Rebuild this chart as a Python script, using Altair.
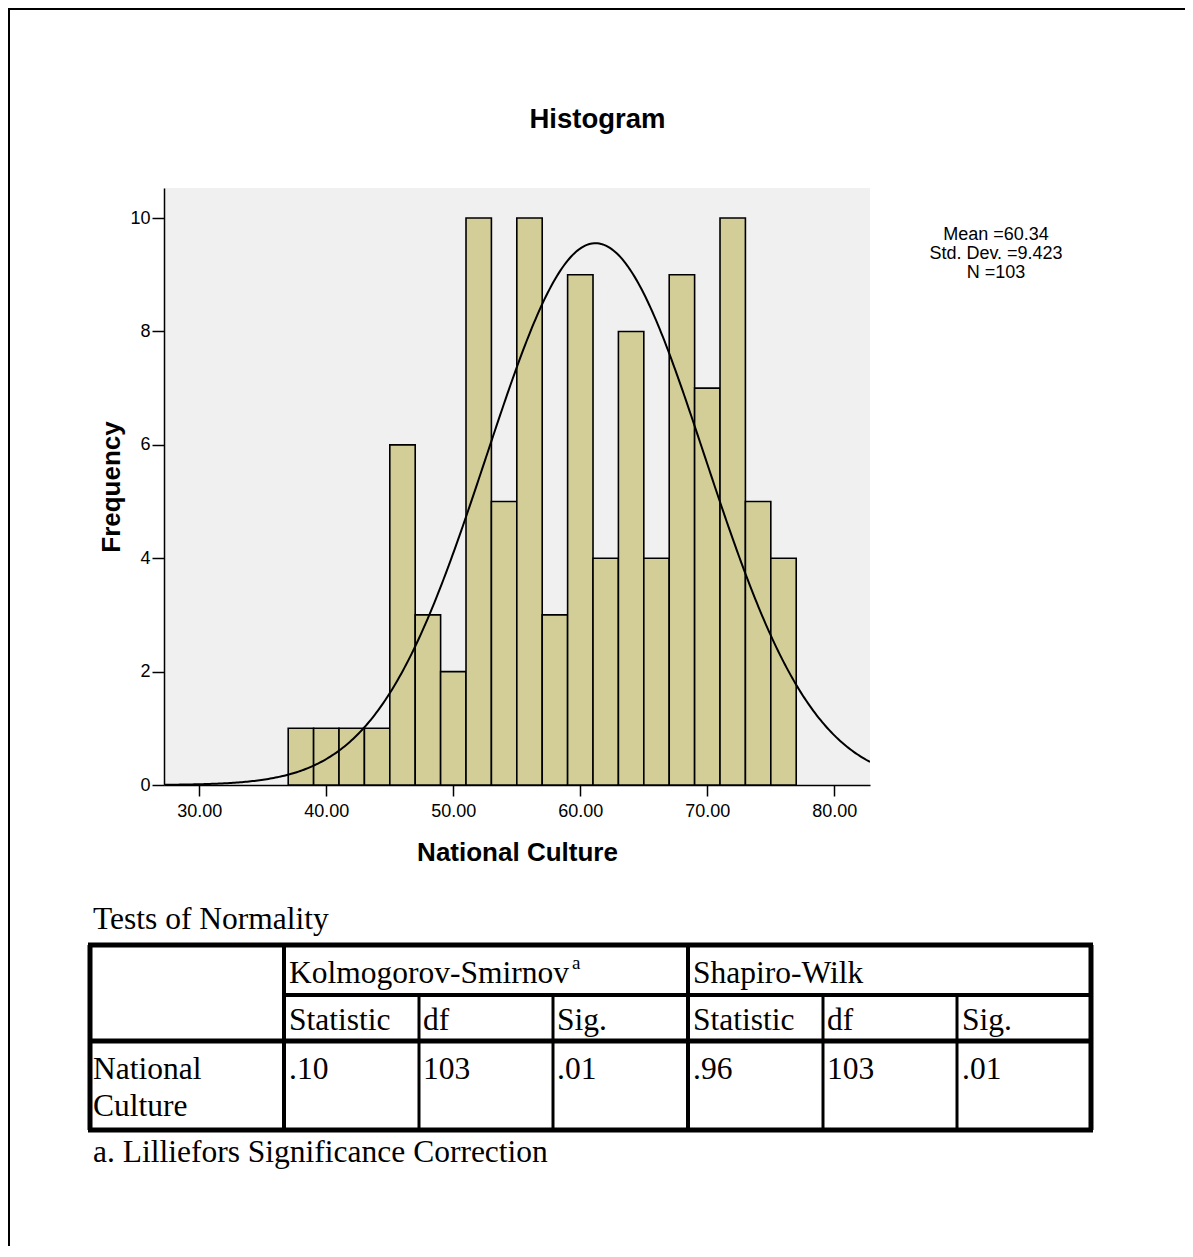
import altair as alt
import pandas as pd
import numpy as np

# ---------------- data ----------------
bin_starts = [37, 39, 41, 43, 45, 47, 49, 51, 53, 55, 57, 59, 61, 63, 65, 67, 69, 71, 73, 75]
counts = [1, 1, 1, 1, 6, 3, 2, 10, 5, 10, 3, 9, 4, 8, 4, 9, 7, 10, 5, 4]
bin_width = 2
n_obs = 103
curve_mean = 61.2   # fitted curve as drawn in the picture
curve_sd = 8.6
stats_lines = ["Mean =60.34", "Std. Dev. =9.423", "N =103"]
x_ticks = [30, 40, 50, 60, 70, 80]
y_ticks = [0, 2, 4, 6, 8, 10]
x_domain = [27.22, 82.81]
y_domain = [0, 10.53]

chart_title = "Histogram"
x_title = "National Culture"
y_title = "Frequency"

table_title = "Tests of Normality"
group_headers = ["Kolmogorov-Smirnov", "Shapiro-Wilk"]
group_sup = "a"
sub_headers = ["Statistic", "df", "Sig.", "Statistic", "df", "Sig."]
row_label = ["National", "Culture"]
row_values = [".10", "103", ".01", ".96", "103", ".01"]
footnote = "a. Lilliefors Significance Correction"

# ---------------- layout (page pixels) ----------------
OX, OY = 164, 188          # plot origin on the page
W, H = 706, 597            # plot area
CW, CH = 1177, 1238        # canvas size

def px(v):
    return v - OX

def py(v):
    return v - OY

SANS = "Liberation Sans"
SERIF = "Liberation Serif"
BAR = "#D3CE97"
TFS = 31.5  # table font size

# ---------------- histogram ----------------
bars_df = pd.DataFrame({
    "start": bin_starts,
    "end": [b + bin_width for b in bin_starts],
    "count": counts,
})

xs = np.linspace(x_domain[0], x_domain[1], 400)
ys = n_obs * bin_width / (curve_sd * np.sqrt(2 * np.pi)) * np.exp(-0.5 * ((xs - curve_mean) / curve_sd) ** 2)
curve_df = pd.DataFrame({"x": xs, "y": ys})

xscale = alt.Scale(domain=x_domain, nice=False, zero=False)
yscale = alt.Scale(domain=y_domain, nice=False, zero=False)

xaxis = alt.Axis(values=x_ticks, format=".2f", title=x_title, grid=False,
                 labelFont=SANS, labelFontSize=18, labelColor="black", labelPadding=6,
                 tickColor="black", tickSize=11, tickWidth=1.5,
                 domainColor="black", domainWidth=1.5,
                 titleFont=SANS, titleFontSize=26, titleFontWeight="bold", titleColor="black",
                 titleBaseline="alphabetic", titleY=75)
yaxis = alt.Axis(values=y_ticks, format="d", title=y_title, grid=False,
                 labelFont=SANS, labelFontSize=18, labelColor="black", labelPadding=2,
                 tickColor="black", tickSize=12, tickWidth=1.5,
                 domainColor="black", domainWidth=1.5,
                 titleFont=SANS, titleFontSize=26, titleFontWeight="bold", titleColor="black",
                 titleBaseline="alphabetic", titleX=-45, titleY=H / 2, titleAngle=-90)

bars = alt.Chart(bars_df).mark_rect(fill=BAR, stroke="black", strokeWidth=1.6).encode(
    x=alt.X("start:Q", scale=xscale, axis=xaxis),
    x2="end:Q",
    y=alt.Y("count:Q", scale=yscale, axis=yaxis),
    y2=alt.datum(0),
)

curve = alt.Chart(curve_df).mark_line(color="black", strokeWidth=2, clip=True).encode(
    x="x:Q",
    y="y:Q",
)

# ---------------- texts positioned on the page ----------------
texts = []
texts.append(dict(t=chart_title, x=px(597.5), y=py(128), font=SANS, size=27.5, weight="bold", align="center"))
for i, s in enumerate(stats_lines):
    texts.append(dict(t=s, x=px(996), y=py(240 + 19 * i), font=SANS, size=18, weight="normal", align="center"))

texts.append(dict(t=table_title, x=px(93), y=py(929), font=SERIF, size=TFS, weight="normal", align="left"))
group_x = [289, 693]
for g, gx in zip(group_headers, group_x):
    texts.append(dict(t=g, x=px(gx), y=py(983), font=SERIF, size=TFS, weight="normal", align="left"))
texts.append(dict(t=group_sup, x=px(572), y=py(969), font=SERIF, size=19, weight="normal", align="left"))
col_x = [289, 423, 557, 693, 827, 962]
for s, cx in zip(sub_headers, col_x):
    texts.append(dict(t=s, x=px(cx), y=py(1030), font=SERIF, size=TFS, weight="normal", align="left"))
for i, s in enumerate(row_label):
    texts.append(dict(t=s, x=px(93), y=py(1079 + 37 * i), font=SERIF, size=TFS, weight="normal", align="left"))
for s, cx in zip(row_values, col_x):
    texts.append(dict(t=s, x=px(cx), y=py(1079), font=SERIF, size=TFS, weight="normal", align="left"))
texts.append(dict(t=footnote, x=px(93), y=py(1162), font=SERIF, size=TFS, weight="normal", align="left"))
texts_df = pd.DataFrame(texts)

text_layers = []
for (font, size, weight, align), sub in texts_df.groupby(["font", "size", "weight", "align"]):
    text_layers.append(
        alt.Chart(sub).mark_text(font=font, fontSize=float(size), fontWeight=weight, align=align,
                                 baseline="alphabetic", color="black").encode(
            x=alt.X("x:Q", scale=None, axis=None),
            y=alt.Y("y:Q", scale=None, axis=None),
            text="t:N",
        )
    )

# ---------------- table & frame lines ----------------
L, R = 90, 1091
c1, c2, c3, c4, c5, c6 = 284, 419, 553, 688, 823, 957
r0, r1, r2, r3 = 945, 995, 1041, 1130
rules = [
    # frame
    dict(x1=9, x2=9, y1=8, y2=1257, w=2),
    dict(x1=8, x2=1193, y1=9, y2=9, w=2),
    # table outer
    dict(x1=L - 2, x2=R + 2, y1=r0, y2=r0, w=5),
    dict(x1=L - 2, x2=R + 2, y1=r3, y2=r3, w=5),
    dict(x1=L, x2=L, y1=r0, y2=r3, w=5),
    dict(x1=R, x2=R, y1=r0, y2=r3, w=5),
    # inner
    dict(x1=L, x2=R, y1=r2, y2=r2, w=5),
    dict(x1=c1, x2=R, y1=r1, y2=r1, w=4),
    dict(x1=c1, x2=c1, y1=r0, y2=r3, w=4),
    dict(x1=c4, x2=c4, y1=r0, y2=r3, w=4),
    dict(x1=c2, x2=c2, y1=r1, y2=r3, w=3),
    dict(x1=c3, x2=c3, y1=r1, y2=r3, w=3),
    dict(x1=c5, x2=c5, y1=r1, y2=r3, w=3),
    dict(x1=c6, x2=c6, y1=r1, y2=r3, w=3),
]
rules_df = pd.DataFrame(rules)
for a, f in (("x1", px), ("x2", px), ("y1", py), ("y2", py)):
    rules_df[a] = rules_df[a].map(f)

rule_layer = alt.Chart(rules_df).mark_rule(color="black").encode(
    x=alt.X("x1:Q", scale=None, axis=None),
    x2="x2:Q",
    y=alt.Y("y1:Q", scale=None, axis=None),
    y2="y2:Q",
    strokeWidth=alt.StrokeWidth("w:Q", scale=None, legend=None),
)

chart = alt.layer(bars, curve, rule_layer, *text_layers).properties(
    width=W, height=H,
    autosize=alt.AutoSizeParams(type="none"),
    padding={"left": OX - 8, "top": OY - 8, "right": CW - (OX - 8) - W, "bottom": CH - (OY - 8) - H},
    background="white",
).configure_view(fill="#F0F0F0", stroke=None)

chart.save("out.html", embed_options={"renderer": "svg", "actions": False})
